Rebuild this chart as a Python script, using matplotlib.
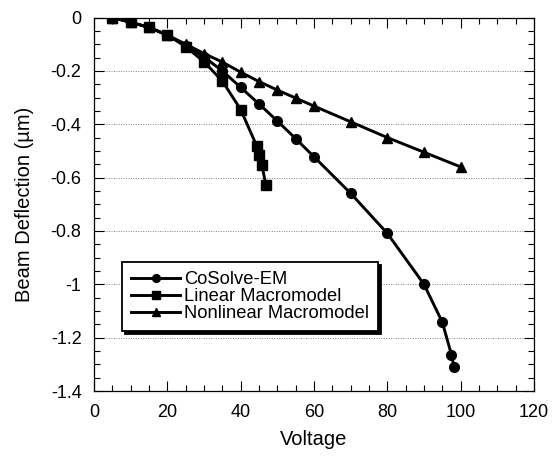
import matplotlib
matplotlib.use("Agg")
import matplotlib.pyplot as plt
from matplotlib.ticker import MultipleLocator

plt.rcParams['font.family'] = ['Liberation Sans', 'DejaVu Sans']
plt.rcParams['axes.unicode_minus'] = False

cosolve_v = [5, 10, 15, 20, 25, 30, 35, 40, 45, 50, 55, 60, 70, 80, 90, 95, 97.5, 98.2]
cosolve_d = [0, -0.018, -0.037, -0.066, -0.105, -0.148, -0.2, -0.262, -0.324, -0.388,
             -0.454, -0.522, -0.659, -0.809, -1.0, -1.142, -1.264, -1.311]

linear_v = [5, 10, 15, 20, 25, 30, 35, 40, 44.4, 45.0, 45.8, 46.9]
linear_d = [0, -0.018, -0.037, -0.066, -0.109, -0.166, -0.238, -0.345, -0.482, -0.515, -0.554, -0.629]

nonlin_v = [5, 10, 15, 20, 25, 30, 35, 40, 45, 50, 55, 60, 70, 80, 90, 100]
nonlin_d = [0, -0.018, -0.037, -0.066, -0.1, -0.135, -0.167, -0.205, -0.24, -0.272,
            -0.302, -0.332, -0.391, -0.45, -0.505, -0.56]

labels = ['CoSolve-EM', 'Linear Macromodel', 'Nonlinear Macromodel']

fig = plt.figure(figsize=(5.53, 4.57), dpi=100)
ax = fig.add_axes([0.170, 0.1444, 0.7956, 0.8173])

lw = 2.1
ax.plot(cosolve_v, cosolve_d, '-o', color='black', lw=lw, ms=7, label=labels[0])
ax.plot(linear_v, linear_d, '-s', color='black', lw=lw, ms=7, label=labels[1])
ax.plot(nonlin_v, nonlin_d, '-^', color='black', lw=lw, ms=7.5, label=labels[2])

ax.set_xlim(0, 120)
ax.set_ylim(-1.4, 0)
ax.xaxis.set_major_locator(MultipleLocator(20))
ax.xaxis.set_minor_locator(MultipleLocator(5))
ax.yaxis.set_major_locator(MultipleLocator(0.2))
ax.yaxis.set_minor_locator(MultipleLocator(0.05))
ax.yaxis.set_major_formatter(plt.FuncFormatter(lambda v, p: '0' if abs(v) < 1e-9 else ('%g' % round(v, 2))))

ax.tick_params(which='both', direction='in', top=True, right=True, labelsize=13, width=0.8)
ax.tick_params(which='major', length=7)
ax.tick_params(axis='y', which='major', pad=9)
ax.tick_params(axis='x', which='major', pad=9)
ax.tick_params(which='minor', length=4)
for s in ax.spines.values():
    s.set_linewidth(0.9)

for yv in [-0.2, -0.4, -0.6, -0.8, -1.0, -1.2]:
    ax.axhline(yv, color='gray', lw=0.7, ls=(0, (1, 1.5)), zorder=0)

ax.set_xlabel('Voltage', fontsize=14.5, labelpad=7)
ax.set_ylabel('Beam Deflection (\u00b5m)', fontsize=14.5, labelpad=12)

leg = ax.legend(loc='upper left', bbox_to_anchor=(0.063, 0.346), borderaxespad=0,
                fancybox=False, shadow={'color': 'black', 'alpha': 1}, framealpha=1,
                edgecolor='black', fontsize=13.2, handlelength=2.7, handletextpad=0.2,
                labelspacing=0.0, borderpad=0.5, markerscale=0.8)
leg.get_frame().set_linewidth(1.3)

fig.savefig('out.png', dpi=100)
